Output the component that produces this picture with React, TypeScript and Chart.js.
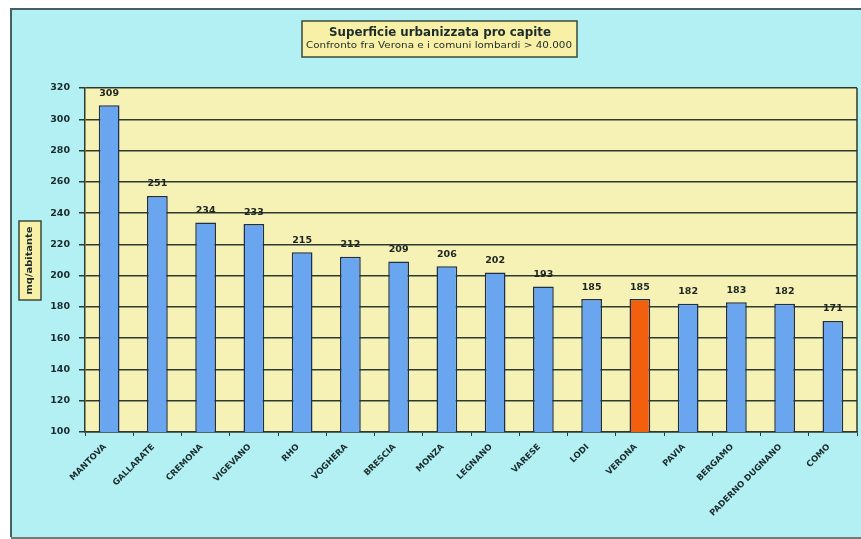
import React, { useEffect, useRef } from "react";
import { Chart, registerables } from "chart.js";

Chart.register(...registerables);

const categories = [
  "MANTOVA", "GALLARATE", "CREMONA", "VIGEVANO", "RHO", "VOGHERA", "BRESCIA", "MONZA",
  "LEGNANO", "VARESE", "LODI", "VERONA", "PAVIA", "BERGAMO", "PADERNO DUGNANO", "COMO",
];
const values = [309, 251, 234, 233, 215, 212, 209, 206, 202, 193, 185, 185, 182, 183, 182, 171];
const highlight = "VERONA";
const titleText = "Superficie urbanizzata pro capite";
const subtitleText = "Confronto fra Verona e i comuni lombardi > 40.000";
const yAxisTitle = "mq/abitante";
const yMin = 100;
const yMax = 320;
const yStep = 20;

const CYAN = "#b2f0f4";
const PLOT_BG = "#f6f2b6";
const BLUE = "#6aa6f0";
const ORANGE = "#f2600e";
const DARK = "#2f3a2e";
const TEXT = "#1c2b2b";
const FONT = "'DejaVu Sans', 'Liberation Sans', sans-serif";

function fitText(ctx: any, text: string, cx: number, cy: number, targetW: number) {
  const w = ctx.measureText(text).width;
  const sx = targetW / w;
  ctx.save();
  ctx.translate(cx, cy);
  ctx.scale(sx, 1);
  ctx.fillText(text, 0, 0);
  ctx.restore();
}

const decorPlugin = {
  id: "decor",
  beforeDraw(chart: any) {
    const { ctx, width, height, chartArea } = chart;
    ctx.save();
    ctx.fillStyle = "#ffffff";
    ctx.fillRect(0, 0, width, height);
    ctx.fillStyle = CYAN;
    ctx.fillRect(10, 8, width - 10, 529);
    ctx.strokeStyle = "#466060";
    ctx.lineWidth = 2;
    ctx.beginPath();
    ctx.moveTo(width + 2, 9);
    ctx.lineTo(11, 9);
    ctx.lineTo(11, 537);
    ctx.stroke();
    ctx.strokeStyle = "#777";
    ctx.beginPath();
    ctx.moveTo(11, 538);
    ctx.lineTo(width, 538);
    ctx.stroke();
    ctx.fillStyle = PLOT_BG;
    ctx.fillRect(chartArea.left, chartArea.top, chartArea.right - chartArea.left, chartArea.bottom - chartArea.top);
    ctx.restore();
  },
  afterDraw(chart: any) {
    const { ctx, chartArea } = chart;
    ctx.save();
    ctx.strokeStyle = DARK;
    ctx.lineWidth = 1.5;
    ctx.beginPath();
    ctx.moveTo(chartArea.right, chartArea.top);
    ctx.lineTo(chartArea.right, chartArea.bottom);
    ctx.stroke();
    // title box
    ctx.fillStyle = "#f8f0a6";
    ctx.fillRect(302, 21, 275, 36);
    ctx.strokeStyle = "#3a4a3a";
    ctx.lineWidth = 1.5;
    ctx.strokeRect(302, 21, 275, 36);
    ctx.fillStyle = TEXT;
    ctx.textAlign = "center";
    ctx.textBaseline = "middle";
    ctx.font = "bold 12px " + FONT;
    fitText(ctx, titleText, 440, 33, 222);
    ctx.font = "8.5px " + FONT;
    fitText(ctx, subtitleText, 439, 46, 266);
    // y axis title box
    ctx.fillStyle = "#f8f0a6";
    ctx.fillRect(19, 221, 22, 79);
    ctx.strokeStyle = "#3a4a3a";
    ctx.strokeRect(19, 221, 22, 79);
    ctx.translate(30, 260.5);
    ctx.rotate(-Math.PI / 2);
    ctx.fillStyle = TEXT;
    ctx.font = "bold 9px " + FONT;
    fitText(ctx, yAxisTitle, 0, 0, 68);
    ctx.restore();
  },
};

const labelPlugin = {
  id: "barLabels",
  afterDatasetsDraw(chart: any) {
    const { ctx } = chart;
    const meta = chart.getDatasetMeta(0);
    ctx.save();
    ctx.fillStyle = "#1e2420";
    ctx.font = "bold 9.5px " + FONT;
    ctx.textAlign = "center";
    ctx.textBaseline = "middle";
    meta.data.forEach((el: any, i: number) => {
      ctx.fillText(String(values[i]), el.x, el.y - 12);
    });
    ctx.restore();
  },
};

export default function App() {
  const ref = useRef<HTMLCanvasElement>(null);
  useEffect(() => {
    if (!ref.current) return;
    const chart = new Chart(ref.current, {
      type: "bar",
      data: {
        labels: categories,
        datasets: [
          {
            data: values,
            backgroundColor: categories.map((c) => (c === highlight ? ORANGE : BLUE)),
            borderColor: "#1f2f48",
            borderWidth: 1.5,
            barPercentage: 0.43,
            categoryPercentage: 1,
          },
        ],
      },
      options: {
        responsive: false,
        animation: false,
        layout: { padding: { left: 0, top: 88, right: 4, bottom: 0 } },
        plugins: { legend: { display: false }, tooltip: { enabled: false }, title: { display: false } },
        scales: {
          x: {
            afterFit: (s: any) => { s.height = 107; },
            grid: { display: true, drawOnChartArea: false, drawTicks: true, tickLength: 4, color: DARK, lineWidth: 1 },
            border: { display: true, color: DARK, width: 1.5 },
            ticks: {
              autoSkip: false,
              maxRotation: 45,
              minRotation: 45,
              padding: 6,
              labelOffset: -4,
              color: TEXT,
              font: { family: FONT, size: 8.5, weight: "bold" },
            },
          },
          y: {
            min: yMin,
            max: yMax,
            afterFit: (s: any) => { s.width = 85; },
            grid: { color: DARK, lineWidth: 1.5, tickLength: 6 },
            border: { display: true, color: DARK, width: 1.5 },
            ticks: {
              stepSize: yStep,
              padding: 9,
              color: TEXT,
              font: { family: FONT, size: 9.5, weight: "bold" },
            },
          },
        },
      },
      plugins: [decorPlugin, labelPlugin],
    });
    return () => chart.destroy();
  }, []);
  return (
    <div style={{ position: "fixed", left: 0, top: 0, width: 861, height: 539 }}>
      <canvas ref={ref} width={861} height={539} style={{ display: "block" }} />
    </div>
  );
}
